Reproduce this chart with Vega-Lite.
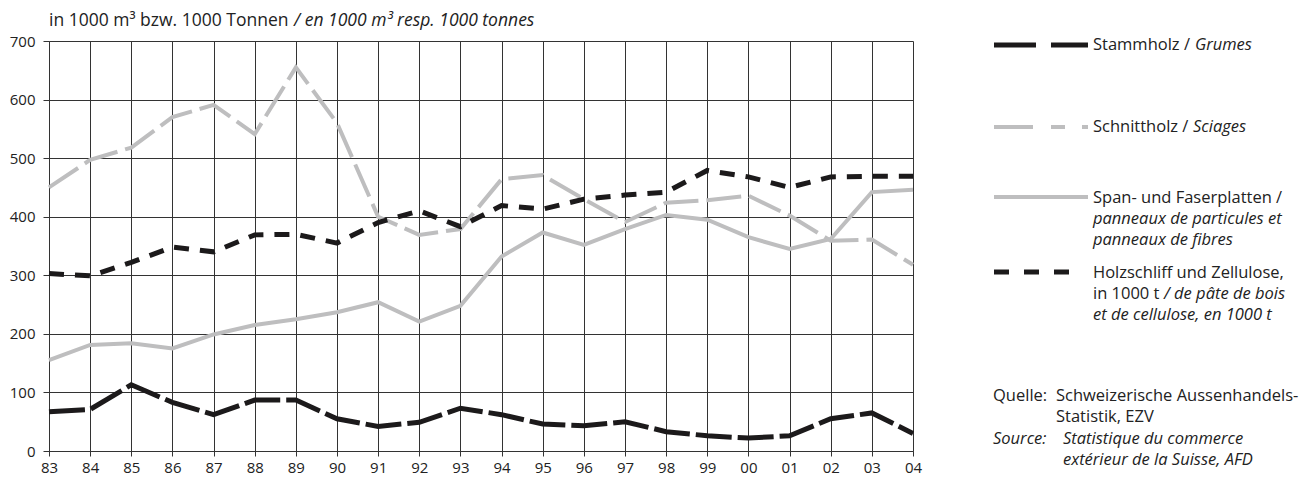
{
  "$schema": "https://vega.github.io/schema/vega-lite/v6.json",
  "background": "white",
  "padding": {"left": 9, "top": 12, "right": 0, "bottom": 0},
  "autosize": {"type": "pad"},
  "spacing": 80,
  "bounds": "flush",
  "datasets": {
    "exports": [
      {"year": 1983, "series": "Stammholz", "value": 67},
      {"year": 1984, "series": "Stammholz", "value": 71},
      {"year": 1985, "series": "Stammholz", "value": 113},
      {"year": 1986, "series": "Stammholz", "value": 83},
      {"year": 1987, "series": "Stammholz", "value": 62},
      {"year": 1988, "series": "Stammholz", "value": 87},
      {"year": 1989, "series": "Stammholz", "value": 87},
      {"year": 1990, "series": "Stammholz", "value": 55},
      {"year": 1991, "series": "Stammholz", "value": 42},
      {"year": 1992, "series": "Stammholz", "value": 49},
      {"year": 1993, "series": "Stammholz", "value": 73},
      {"year": 1994, "series": "Stammholz", "value": 62},
      {"year": 1995, "series": "Stammholz", "value": 46},
      {"year": 1996, "series": "Stammholz", "value": 43},
      {"year": 1997, "series": "Stammholz", "value": 50},
      {"year": 1998, "series": "Stammholz", "value": 33},
      {"year": 1999, "series": "Stammholz", "value": 26},
      {"year": 2000, "series": "Stammholz", "value": 22},
      {"year": 2001, "series": "Stammholz", "value": 26},
      {"year": 2002, "series": "Stammholz", "value": 55},
      {"year": 2003, "series": "Stammholz", "value": 65},
      {"year": 2004, "series": "Stammholz", "value": 30},
      {"year": 1983, "series": "Schnittholz", "value": 450},
      {"year": 1984, "series": "Schnittholz", "value": 497},
      {"year": 1985, "series": "Schnittholz", "value": 518},
      {"year": 1986, "series": "Schnittholz", "value": 570},
      {"year": 1987, "series": "Schnittholz", "value": 591},
      {"year": 1988, "series": "Schnittholz", "value": 541},
      {"year": 1989, "series": "Schnittholz", "value": 655},
      {"year": 1990, "series": "Schnittholz", "value": 560},
      {"year": 1991, "series": "Schnittholz", "value": 400},
      {"year": 1992, "series": "Schnittholz", "value": 369},
      {"year": 1993, "series": "Schnittholz", "value": 379},
      {"year": 1994, "series": "Schnittholz", "value": 464},
      {"year": 1995, "series": "Schnittholz", "value": 471},
      {"year": 1996, "series": "Schnittholz", "value": 430},
      {"year": 1997, "series": "Schnittholz", "value": 391},
      {"year": 1998, "series": "Schnittholz", "value": 424},
      {"year": 1999, "series": "Schnittholz", "value": 428},
      {"year": 2000, "series": "Schnittholz", "value": 436},
      {"year": 2001, "series": "Schnittholz", "value": 402},
      {"year": 2002, "series": "Schnittholz", "value": 359},
      {"year": 2003, "series": "Schnittholz", "value": 361},
      {"year": 2004, "series": "Schnittholz", "value": 318},
      {"year": 1983, "series": "Span", "value": 155},
      {"year": 1984, "series": "Span", "value": 181},
      {"year": 1985, "series": "Span", "value": 184},
      {"year": 1986, "series": "Span", "value": 175},
      {"year": 1987, "series": "Span", "value": 199},
      {"year": 1988, "series": "Span", "value": 215},
      {"year": 1989, "series": "Span", "value": 225},
      {"year": 1990, "series": "Span", "value": 237},
      {"year": 1991, "series": "Span", "value": 254},
      {"year": 1992, "series": "Span", "value": 221},
      {"year": 1993, "series": "Span", "value": 248},
      {"year": 1994, "series": "Span", "value": 332},
      {"year": 1995, "series": "Span", "value": 373},
      {"year": 1996, "series": "Span", "value": 352},
      {"year": 1997, "series": "Span", "value": 379},
      {"year": 1998, "series": "Span", "value": 403},
      {"year": 1999, "series": "Span", "value": 395},
      {"year": 2000, "series": "Span", "value": 365},
      {"year": 2001, "series": "Span", "value": 345},
      {"year": 2002, "series": "Span", "value": 362},
      {"year": 2003, "series": "Span", "value": 442},
      {"year": 2004, "series": "Span", "value": 446},
      {"year": 1983, "series": "Holzschliff", "value": 303},
      {"year": 1984, "series": "Holzschliff", "value": 299},
      {"year": 1985, "series": "Holzschliff", "value": 322},
      {"year": 1986, "series": "Holzschliff", "value": 348},
      {"year": 1987, "series": "Holzschliff", "value": 340},
      {"year": 1988, "series": "Holzschliff", "value": 369},
      {"year": 1989, "series": "Holzschliff", "value": 370},
      {"year": 1990, "series": "Holzschliff", "value": 355},
      {"year": 1991, "series": "Holzschliff", "value": 390},
      {"year": 1992, "series": "Holzschliff", "value": 410},
      {"year": 1993, "series": "Holzschliff", "value": 383},
      {"year": 1994, "series": "Holzschliff", "value": 419},
      {"year": 1995, "series": "Holzschliff", "value": 413},
      {"year": 1996, "series": "Holzschliff", "value": 430},
      {"year": 1997, "series": "Holzschliff", "value": 437},
      {"year": 1998, "series": "Holzschliff", "value": 442},
      {"year": 1999, "series": "Holzschliff", "value": 479},
      {"year": 2000, "series": "Holzschliff", "value": 468},
      {"year": 2001, "series": "Holzschliff", "value": 450},
      {"year": 2002, "series": "Holzschliff", "value": 468},
      {"year": 2003, "series": "Holzschliff", "value": 469},
      {"year": 2004, "series": "Holzschliff", "value": 469}
    ]
  },
  "hconcat": [
    {
      "width": 864,
      "height": 410,
      "layer": [
        {
          "data": {"name": "exports"},
          "encoding": {
            "x": {
              "field": "year", "type": "quantitative",
              "scale": {"domain": [1983, 2004], "nice": false, "zero": false},
              "axis": {
                "title": null, "grid": true,
                "values": [1983,1984,1985,1986,1987,1988,1989,1990,1991,1992,1993,1994,1995,1996,1997,1998,1999,2000,2001,2002,2003,2004],
                "labelExpr": "substring(toString(datum.value), 2)",
                "tickSize": 5, "labelPadding": 4, "labelFlush": false, "labelOverlap": false
              }
            },
            "y": {
              "field": "value", "type": "quantitative",
              "scale": {"domain": [0, 700], "nice": false},
              "axis": {
                "title": null, "grid": true,
                "values": [0, 100, 200, 300, 400, 500, 600, 700],
                "tickSize": 6, "labelPadding": 8
              }
            }
          },
          "layer": [
            {
              "transform": [{"filter": "datum.series === 'Schnittholz'"}],
              "mark": {"type": "line", "color": "#bebebf", "strokeWidth": 4, "strokeDash": [35, 8]}
            },
            {
              "transform": [{"filter": "datum.series === 'Span'"}],
              "mark": {"type": "line", "color": "#bebebf", "strokeWidth": 4}
            },
            {
              "transform": [{"filter": "datum.series === 'Holzschliff'"}],
              "mark": {"type": "line", "color": "#1c1a1b", "strokeWidth": 5, "strokeDash": [15, 11]}
            },
            {
              "transform": [{"filter": "datum.series === 'Stammholz'"}],
              "mark": {"type": "line", "color": "#1c1a1b", "strokeWidth": 5, "strokeDash": [36, 6]}
            }
          ]
        },
        {
          "data": {"values": [{}]},
          "mark": {"type": "text", "align": "left", "baseline": "middle", "font": "Open Sans", "fontSize": 17.5, "color": "#222222", "dy": -20},
          "encoding": {
            "x": {"datum": 1983, "type": "quantitative"},
            "y": {"datum": 700, "type": "quantitative"},
            "text": {"value": "in 1000 m³ bzw. 1000 Tonnen "}
          }
        },
        {
          "data": {"values": [{}]},
          "mark": {"type": "text", "align": "left", "baseline": "middle", "font": "Open Sans", "fontSize": 17.5, "fontStyle": "italic", "color": "#222222", "dy": -20, "dx": 245},
          "encoding": {
            "x": {"datum": 1983, "type": "quantitative"},
            "y": {"datum": 700, "type": "quantitative"},
            "text": {"value": "/ en 1000 m³ resp. 1000 tonnes"}
          }
        }
      ]
    },
    {
      "width": 310,
      "height": 410,
      "data": {"values": [{}]},
      "layer": [
        {
          "mark": {"type": "rule", "color": "#1c1a1b", "strokeWidth": 5, "strokeDash": [42, 15]},
          "encoding": {
            "x": {"datum": 1, "type": "quantitative", "scale": {"domain": [0, 310], "nice": false, "zero": false}, "axis": null},
            "x2": {"datum": 95},
            "y": {"datum": 4, "type": "quantitative", "scale": {"domain": [0, 410], "nice": false, "zero": false, "reverse": true}, "axis": null}
          }
        },
        {
          "mark": {"type": "rule", "color": "#bebebf", "strokeWidth": 4, "strokeDash": [39, 18, 14, 17]},
          "encoding": {
            "x": {"datum": 1, "type": "quantitative", "axis": null},
            "x2": {"datum": 95},
            "y": {"datum": 86, "type": "quantitative", "axis": null}
          }
        },
        {
          "mark": {"type": "rule", "color": "#bebebf", "strokeWidth": 4},
          "encoding": {
            "x": {"datum": 1, "type": "quantitative", "axis": null},
            "x2": {"datum": 95},
            "y": {"datum": 156, "type": "quantitative", "axis": null}
          }
        },
        {
          "mark": {"type": "rule", "color": "#1c1a1b", "strokeWidth": 5, "strokeDash": [15, 15]},
          "encoding": {
            "x": {"datum": 1, "type": "quantitative", "axis": null},
            "x2": {"datum": 76},
            "y": {"datum": 231, "type": "quantitative", "axis": null}
          }
        },
        {
          "mark": {"type": "text", "align": "left", "baseline": "middle", "font": "Open Sans", "fontSize": 16.5, "color": "#222222"},
          "encoding": {"x": {"datum": 100, "type": "quantitative", "axis": null}, "y": {"datum": 4, "type": "quantitative", "axis": null}, "text": {"value": "Stammholz /"}}
        },
        {
          "mark": {"type": "text", "align": "left", "baseline": "middle", "font": "Open Sans", "fontSize": 16.5, "fontStyle": "italic", "color": "#222222", "dx": 102},
          "encoding": {"x": {"datum": 100, "type": "quantitative", "axis": null}, "y": {"datum": 4, "type": "quantitative", "axis": null}, "text": {"value": "Grumes"}}
        },
        {
          "mark": {"type": "text", "align": "left", "baseline": "middle", "font": "Open Sans", "fontSize": 16.5, "color": "#222222"},
          "encoding": {"x": {"datum": 100, "type": "quantitative", "axis": null}, "y": {"datum": 86, "type": "quantitative", "axis": null}, "text": {"value": "Schnittholz /"}}
        },
        {
          "mark": {"type": "text", "align": "left", "baseline": "middle", "font": "Open Sans", "fontSize": 16.5, "fontStyle": "italic", "color": "#222222", "dx": 100},
          "encoding": {"x": {"datum": 100, "type": "quantitative", "axis": null}, "y": {"datum": 86, "type": "quantitative", "axis": null}, "text": {"value": "Sciages"}}
        },
        {
          "mark": {"type": "text", "align": "left", "baseline": "middle", "font": "Open Sans", "fontSize": 16.5, "color": "#222222"},
          "encoding": {"x": {"datum": 100, "type": "quantitative", "axis": null}, "y": {"datum": 157, "type": "quantitative", "axis": null}, "text": {"value": "Span- und Faserplatten /"}}
        },
        {
          "mark": {"type": "text", "align": "left", "baseline": "middle", "font": "Open Sans", "fontSize": 16.5, "fontStyle": "italic", "color": "#222222"},
          "encoding": {"x": {"datum": 100, "type": "quantitative", "axis": null}, "y": {"datum": 178, "type": "quantitative", "axis": null}, "text": {"value": "panneaux de particules et"}}
        },
        {
          "mark": {"type": "text", "align": "left", "baseline": "middle", "font": "Open Sans", "fontSize": 16.5, "fontStyle": "italic", "color": "#222222"},
          "encoding": {"x": {"datum": 100, "type": "quantitative", "axis": null}, "y": {"datum": 199, "type": "quantitative", "axis": null}, "text": {"value": "panneaux de fibres"}}
        },
        {
          "mark": {"type": "text", "align": "left", "baseline": "middle", "font": "Open Sans", "fontSize": 16.5, "color": "#222222"},
          "encoding": {"x": {"datum": 100, "type": "quantitative", "axis": null}, "y": {"datum": 232, "type": "quantitative", "axis": null}, "text": {"value": "Holzschliff und Zellulose,"}}
        },
        {
          "mark": {"type": "text", "align": "left", "baseline": "middle", "font": "Open Sans", "fontSize": 16.5, "color": "#222222"},
          "encoding": {"x": {"datum": 100, "type": "quantitative", "axis": null}, "y": {"datum": 253, "type": "quantitative", "axis": null}, "text": {"value": "in 1000 t"}}
        },
        {
          "mark": {"type": "text", "align": "left", "baseline": "middle", "font": "Open Sans", "fontSize": 16.5, "fontStyle": "italic", "color": "#222222", "dx": 71},
          "encoding": {"x": {"datum": 100, "type": "quantitative", "axis": null}, "y": {"datum": 253, "type": "quantitative", "axis": null}, "text": {"value": "/ de pâte de bois"}}
        },
        {
          "mark": {"type": "text", "align": "left", "baseline": "middle", "font": "Open Sans", "fontSize": 16.5, "fontStyle": "italic", "color": "#222222"},
          "encoding": {"x": {"datum": 100, "type": "quantitative", "axis": null}, "y": {"datum": 274, "type": "quantitative", "axis": null}, "text": {"value": "et de cellulose, en 1000 t"}}
        },
        {
          "mark": {"type": "text", "align": "left", "baseline": "middle", "font": "Open Sans", "fontSize": 16.5, "color": "#222222"},
          "encoding": {"x": {"datum": 0, "type": "quantitative", "axis": null}, "y": {"datum": 355, "type": "quantitative", "axis": null}, "text": {"value": "Quelle:"}}
        },
        {
          "mark": {"type": "text", "align": "left", "baseline": "middle", "font": "Open Sans", "fontSize": 16.5, "color": "#222222"},
          "encoding": {"x": {"datum": 63, "type": "quantitative", "axis": null}, "y": {"datum": 355, "type": "quantitative", "axis": null}, "text": {"value": "Schweizerische Aussenhandels-"}}
        },
        {
          "mark": {"type": "text", "align": "left", "baseline": "middle", "font": "Open Sans", "fontSize": 16.5, "color": "#222222"},
          "encoding": {"x": {"datum": 63, "type": "quantitative", "axis": null}, "y": {"datum": 376, "type": "quantitative", "axis": null}, "text": {"value": "Statistik, EZV"}}
        },
        {
          "mark": {"type": "text", "align": "left", "baseline": "middle", "font": "Open Sans", "fontSize": 16.5, "fontStyle": "italic", "color": "#222222"},
          "encoding": {"x": {"datum": 0, "type": "quantitative", "axis": null}, "y": {"datum": 398, "type": "quantitative", "axis": null}, "text": {"value": "Source:"}}
        },
        {
          "mark": {"type": "text", "align": "left", "baseline": "middle", "font": "Open Sans", "fontSize": 16.5, "fontStyle": "italic", "color": "#222222"},
          "encoding": {"x": {"datum": 70, "type": "quantitative", "axis": null}, "y": {"datum": 398, "type": "quantitative", "axis": null}, "text": {"value": "Statistique du commerce"}}
        },
        {
          "mark": {"type": "text", "align": "left", "baseline": "middle", "font": "Open Sans", "fontSize": 16.5, "fontStyle": "italic", "color": "#222222"},
          "encoding": {"x": {"datum": 70, "type": "quantitative", "axis": null}, "y": {"datum": 419, "type": "quantitative", "axis": null}, "text": {"value": "extérieur de la Suisse, AFD"}}
        }
      ]
    }
  ],
  "config": {
    "view": {"stroke": null},
    "axis": {
      "labelFont": "Open Sans", "labelFontSize": 15, "labelColor": "#222222",
      "gridColor": "#333333", "gridWidth": 1, "gridOpacity": 1,
      "tickColor": "#333333", "tickWidth": 1,
      "domainColor": "#333333", "domainWidth": 1
    }
  }
}
